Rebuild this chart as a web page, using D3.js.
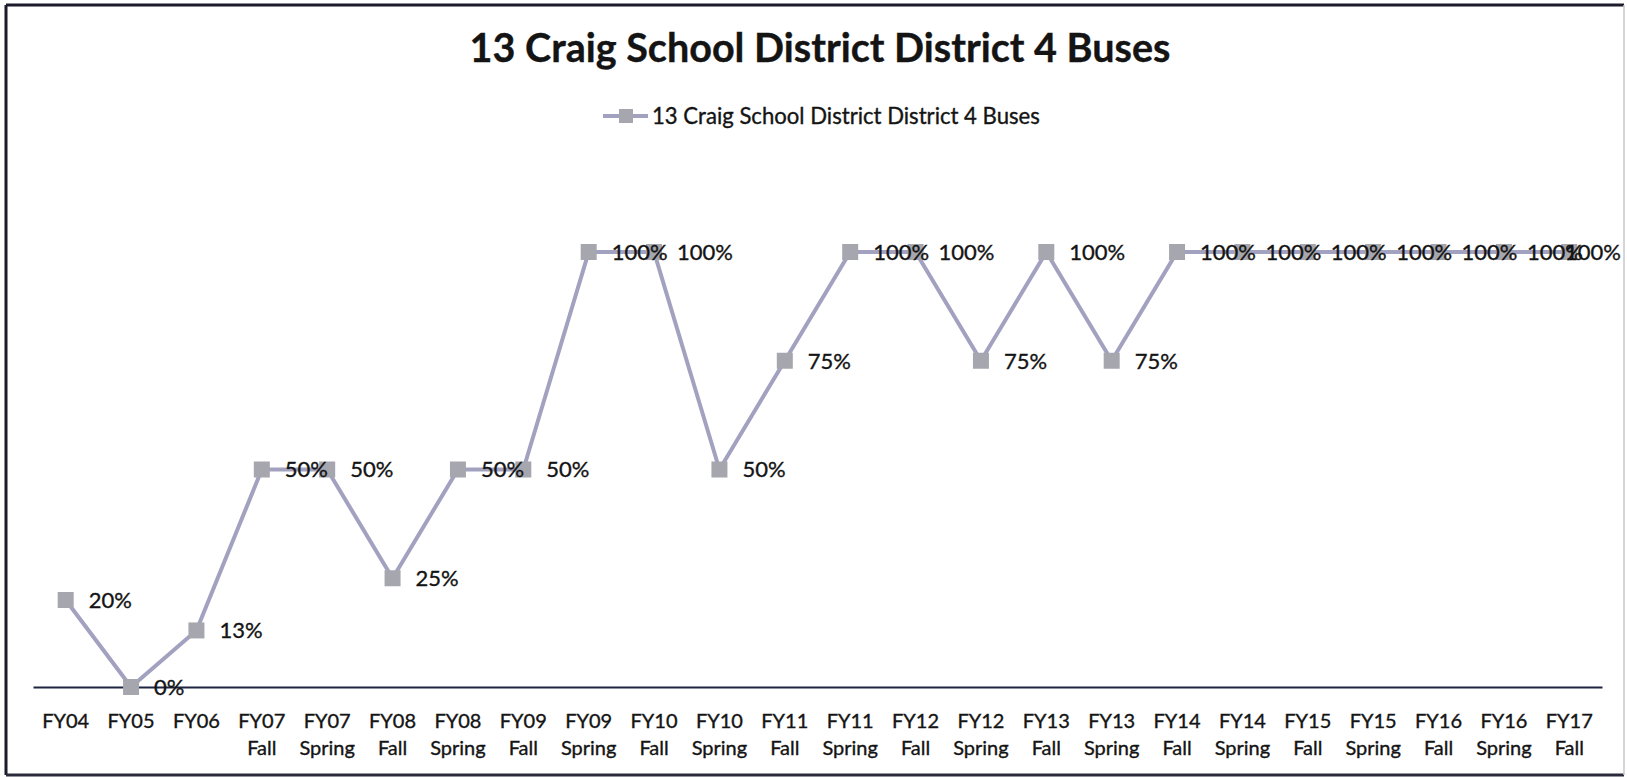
<!DOCTYPE html>
<html>
<head>
<meta charset="utf-8">
<script src="https://cdn.jsdelivr.net/npm/d3@7"></script>
<style>
  html, body { margin: 0; padding: 0; background: #fff; }
  svg { display: block; }
  text { font-family: Lato, "Open Sans", sans-serif; fill: #141414; stroke: #141414; stroke-width: 0.35px; }
</style>
</head>
<body>
<svg id="chart" width="1627" height="777"></svg>
<script>
const titleText = "13 Craig School District District 4 Buses";
const seriesName = "13 Craig School District District 4 Buses";
const categories = [
  ["FY04"], ["FY05"], ["FY06"],
  ["FY07", "Fall"], ["FY07", "Spring"],
  ["FY08", "Fall"], ["FY08", "Spring"],
  ["FY09", "Fall"], ["FY09", "Spring"],
  ["FY10", "Fall"], ["FY10", "Spring"],
  ["FY11", "Fall"], ["FY11", "Spring"],
  ["FY12", "Fall"], ["FY12", "Spring"],
  ["FY13", "Fall"], ["FY13", "Spring"],
  ["FY14", "Fall"], ["FY14", "Spring"],
  ["FY15", "Fall"], ["FY15", "Spring"],
  ["FY16", "Fall"], ["FY16", "Spring"],
  ["FY17", "Fall"]
];
const values = [0.20, 0.00, 0.13, 0.50, 0.50, 0.25, 0.50, 0.50, 1.00, 1.00, 0.50, 0.75,
                1.00, 1.00, 0.75, 1.00, 0.75, 1.00, 1.00, 1.00, 1.00, 1.00, 1.00, 1.00];

const svg = d3.select("#chart");

// outer chart border
svg.append("line").attr("x1", 6).attr("y1", 5).attr("x2", 1624).attr("y2", 5)
  .attr("stroke", "#1b1b2b").attr("stroke-width", 3);
svg.append("line").attr("x1", 6).attr("y1", 5).attr("x2", 6).attr("y2", 775)
  .attr("stroke", "#1b1b2b").attr("stroke-width", 3);
svg.append("line").attr("x1", 6).attr("y1", 775).attr("x2", 1624).attr("y2", 775)
  .attr("stroke", "#2a2a3a").attr("stroke-width", 3);
svg.append("line").attr("x1", 1624).attr("y1", 5).attr("x2", 1624).attr("y2", 775)
  .attr("stroke", "#c8c8cc").attr("stroke-width", 1.5);

const idx = d3.range(categories.length);
const x = d3.scaleBand().domain(idx).range([33, 1602]).padding(0);
const y = d3.scaleLinear().domain([0, 1]).range([687, 252]);
const cx = i => x(i) + x.bandwidth() / 2;

// axis
const axis = d3.axisBottom(x).tickSize(0).tickFormat(() => "");
const gAxis = svg.append("g").attr("transform", `translate(0,${y(0)})`).call(axis);
gAxis.select(".domain").attr("stroke", "#1d2540").attr("stroke-width", 2.2);
gAxis.selectAll(".tick").each(function(d) {
  const t = d3.select(this).append("text")
    .attr("text-anchor", "middle")
    .style("font-size", "20px");
  categories[d].forEach((s, k) => {
    t.append("tspan").attr("x", 0).attr("y", 41 + k * 27).text(s);
  });
});

// line
const line = d3.line().x((d, i) => cx(i)).y(d => y(d));
svg.append("path").datum(values)
  .attr("d", line)
  .attr("fill", "none")
  .attr("stroke", "#a2a2c0")
  .attr("stroke-width", 4)
  .attr("stroke-linejoin", "round");

// markers
const ms = 16;
svg.selectAll("rect.marker").data(values).enter().append("rect")
  .attr("class", "marker")
  .attr("x", (d, i) => cx(i) - ms / 2)
  .attr("y", d => y(d) - ms / 2)
  .attr("width", ms).attr("height", ms)
  .attr("fill", "#a6a6ae");

// data labels
const fmt = d3.format(".0%");
svg.selectAll("text.lbl").data(values).enter().append("text")
  .attr("class", "lbl")
  .attr("x", (d, i) => cx(i) + 23)
  .attr("y", d => y(d))
  .attr("dy", "0.36em")
  .style("font-size", "22px")
  .text(d => fmt(d))
  .each(function() {
    const t = d3.select(this);
    const w = this.getComputedTextLength();
    const x0 = +t.attr("x");
    if (x0 + w > 1621) t.attr("x", 1621 - w);
  });

// title
const title = svg.append("text")
  .attr("x", 820).attr("y", 62)
  .attr("text-anchor", "middle")
  .style("font-size", "36px").style("font-weight", "bold")
  .text(titleText);
{
  const w = title.node().getComputedTextLength();
  title.style("font-size", (36 * 701 / w) + "px");
}

// legend
const lg = svg.append("g").attr("transform", "translate(0,116)");
lg.append("line").attr("x1", 603).attr("x2", 648).attr("y1", 0).attr("y2", 0)
  .attr("stroke", "#a2a2c0").attr("stroke-width", 4);
lg.append("rect").attr("x", 626 - 7).attr("y", -7).attr("width", 14).attr("height", 14)
  .attr("fill", "#a6a6ae");
const lt = lg.append("text").attr("x", 652).attr("y", 0).attr("dy", "0.36em")
  .style("font-size", "19px").text(seriesName);
{
  const w = lt.node().getComputedTextLength();
  lt.style("font-size", (19 * 388 / w) + "px");
}
</script>
</body>
</html>
